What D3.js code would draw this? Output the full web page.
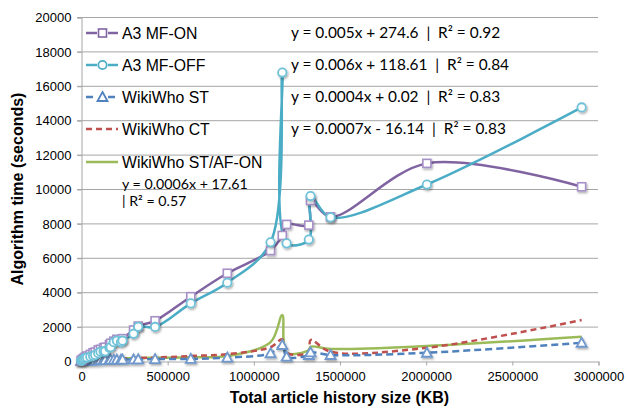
<!DOCTYPE html>
<html>
<head>
<meta charset="utf-8">
<script src="https://cdn.jsdelivr.net/npm/d3@7"></script>
<style>
  body { margin: 0; background: #fff; }
  svg { display: block; }
  .tick text { font-family: "Liberation Sans", Arial, sans-serif; font-size: 13px; fill: #000; }
</style>
</head>
<body>
<svg width="627" height="410"></svg>
<script>
// article history sizes (KB), shared by all series
var articleSize = [1000, 3000, 6000, 10000, 16000, 24000, 35000, 54000, 70000, 82000,
  100000, 113000, 131000, 140000, 165000, 172000, 190000, 208000, 232000, 241000,
  305000, 332000, 430000, 637000, 849000, 1100000, 1168000, 1193000, 1322000, 1332000,
  1448000, 2007000, 2905000];

// algorithm time (seconds)
var a3On = [10, 30, 60, 100, 150, 220, 290, 380, 480, 520,
  640, 680, 770, 800, 950, 1030, 1150, 1260, 1230, 1300,
  1800, 2030, 2340, 3740, 5100, 6420, 7300, 7940, 7900, 9330,
  8380, 11490, 10130];
var a3Off = [8, 25, 50, 80, 120, 170, 200, 250, 300, 350,
  450, 540, 560, 560, 760, 800, 1090, 1180, 1100, 1180,
  1580, 1990, 1980, 3350, 4550, 6900, 16770, 6840, 7060, 9590,
  8350, 10260, 14740];
var wwST = [2, 5, 8, 10, 15, 20, 25, 30, 35, 40,
  45, 50, 55, 55, 60, 65, 70, 75, 80, 80,
  90, 100, 110, 120, 200, 450, 930, 250, 350, 500,
  350, 480, 1060];
var wwCT = [3, 8, 12, 18, 25, 30, 40, 50, 55, 60,
  70, 80, 85, 90, 100, 105, 110, 120, 130, 135,
  160, 170, 200, 290, 400, 800, 1260, 480, 500, 1220,
  540, 770, 2380];
var wwAF = [3, 8, 12, 18, 25, 35, 45, 55, 65, 70,
  80, 90, 95, 100, 110, 115, 120, 130, 140, 145,
  170, 180, 190, 215, 290, 1100, 2670, 480, 640, 830,
  700, 870, 1410];

var seriesNames = ["A3 MF-ON", "A3 MF-OFF", "WikiWho ST", "WikiWho CT", "WikiWho ST/AF-ON"];
var equations = [
  "y = 0.005x + 274.6  |  R\u00b2 = 0.92",
  "y = 0.006x + 118.61  |  R\u00b2 = 0.84",
  "y = 0.0004x + 0.02  |  R\u00b2 = 0.83",
  "y = 0.0007x - 16.14  |  R\u00b2 = 0.83"
];
var afEquation = ["y = 0.0006x + 17.61", "| R\u00b2 = 0.57"];

var xTicks = [0, 500000, 1000000, 1500000, 2000000, 2500000, 3000000];
var yTicks = d3.range(0, 20001, 2000);

var seriesValues = [a3On, a3Off, wwST, wwCT, wwAF];
var lineColors = ["#8064A2", "#4BACC6", "#4F81BD", "#C0504D", "#9BBB59"];
var markerColors = ["#A690C8", "#6FC2D8", "#6F98CC", null, null];
var markerTypes = ["square", "circle", "triangle", null, null];
var dashes = [null, null, "7,4", "6,4", null];

var svg = d3.select("svg");
var plotL = 81, plotR = 598, plotT = 17, plotB = 361;

var x = d3.scaleLinear().domain([0, 3000000]).range([plotL, plotR]);
var y = d3.scaleLinear().domain([0, 20000]).range([plotB, plotT]);

// shadow like the office charts
var defs = svg.append("defs");
var f = defs.append("filter").attr("id", "shadow").attr("x", "-50%").attr("y", "-50%")
  .attr("width", "200%").attr("height", "200%");
f.append("feDropShadow").attr("dx", 1).attr("dy", 1.5).attr("stdDeviation", 1)
  .attr("flood-color", "#000").attr("flood-opacity", 0.35);

// gridlines
svg.append("g")
  .selectAll("line")
  .data(yTicks.filter(function (d) { return d > 0; }))
  .enter().append("line")
  .attr("x1", plotL - 4).attr("x2", plotR)
  .attr("y1", function (d) { return y(d) + 0.5; })
  .attr("y2", function (d) { return y(d) + 0.5; })
  .attr("stroke", "#A6A6A6").attr("stroke-width", 1);

// y axis
var yAxis = svg.append("g")
  .attr("transform", "translate(" + (plotL + 0.5) + ",0.5)")
  .call(d3.axisLeft(y).tickValues(yTicks).tickSize(4).tickPadding(6).tickFormat(d3.format("d")));
yAxis.select(".domain").attr("stroke", "#A6A6A6");
yAxis.selectAll(".tick line").attr("stroke", "#A6A6A6");

// x axis
var xAxis = svg.append("g")
  .attr("transform", "translate(0.5," + (plotB + 0.5) + ")")
  .call(d3.axisBottom(x).tickValues(xTicks).tickSize(4).tickPadding(6).tickFormat(d3.format("d")));
xAxis.select(".domain").attr("stroke", "#A6A6A6");
xAxis.selectAll(".tick line").attr("stroke", "#A6A6A6");

// axis titles
svg.append("text")
  .attr("x", (plotL + plotR) / 2).attr("y", 403)
  .attr("text-anchor", "middle")
  .style("font-family", "Liberation Sans, Arial, sans-serif")
  .style("font-weight", "bold").style("font-size", "16px")
  .text("Total article history size (KB)");

svg.append("text")
  .attr("transform", "translate(23," + (plotT + plotB) / 2 + ") rotate(-90)")
  .attr("text-anchor", "middle")
  .style("font-family", "Liberation Sans, Arial, sans-serif")
  .style("font-weight", "bold").style("font-size", "16px")
  .text("Algorithm time (seconds)");

// lines
var line = d3.line()
  .x(function (d) { return x(d[0]); })
  .y(function (d) { return y(d[1]); })
  .curve(d3.curveCatmullRom.alpha(0.5));

var drawOrder = [4, 3, 2, 0, 1];
var plot = svg.append("g");

drawOrder.forEach(function (s) {
  var pts = articleSize.map(function (v, i) { return [v, seriesValues[s][i]]; });
  plot.append("path")
    .datum(pts)
    .attr("d", line)
    .attr("fill", "none")
    .attr("stroke", lineColors[s])
    .attr("stroke-width", 2.5)
    .attr("stroke-dasharray", dashes[s]);
});

function drawMarker(g, type, color, cx, cy) {
  if (type === "square") {
    g.append("rect").attr("x", cx - 4).attr("y", cy - 4).attr("width", 8).attr("height", 8)
      .attr("fill", "#fff").attr("stroke", color).attr("stroke-width", 1.6);
  } else if (type === "circle") {
    g.append("circle").attr("cx", cx).attr("cy", cy).attr("r", 4.2)
      .attr("fill", "#fff").attr("stroke", color).attr("stroke-width", 1.8);
  } else if (type === "triangle") {
    g.append("path")
      .attr("d", "M" + cx + "," + (cy - 5) + "L" + (cx + 5) + "," + (cy + 4) + "L" + (cx - 5) + "," + (cy + 4) + "Z")
      .attr("fill", "#fff").attr("stroke", color).attr("stroke-width", 1.8);
  }
}

[2, 0, 1].forEach(function (s) {
  var g = plot.append("g").attr("filter", "url(#shadow)");
  articleSize.forEach(function (v, i) {
    drawMarker(g, markerTypes[s], markerColors[s], x(v), y(seriesValues[s][i]));
  });
});

// legend
var legendY = [33, 65, 97, 129, 162];
var legend = svg.append("g");
seriesNames.forEach(function (name, s) {
  var ly = legendY[s];
  legend.append("line")
    .attr("x1", 86).attr("x2", 118).attr("y1", ly).attr("y2", ly)
    .attr("stroke", lineColors[s]).attr("stroke-width", 2.5)
    .attr("stroke-dasharray", dashes[s]);
  if (markerTypes[s]) {
    legend.append("rect").attr("x", 97).attr("y", ly - 5).attr("width", 11).attr("height", 10).attr("fill", "#fff");
    drawMarker(legend, markerTypes[s], lineColors[s], 102.5, ly);
  }
  legend.append("text")
    .attr("x", 122).attr("y", ly + 5.5)
    .style("font-family", "Liberation Sans, Arial, sans-serif")
    .style("font-size", "15.8px")
    .text(name);
});

// trendline equations
var eqFont = "Lato, 'Open Sans', sans-serif";
equations.forEach(function (t, i) {
  svg.append("text")
    .attr("x", 291).attr("y", legendY[i] + 4.5)
    .style("font-family", eqFont).style("font-size", "15.4px")
    .style("white-space", "pre")
    .text(t);
});
afEquation.forEach(function (t, i) {
  svg.append("text")
    .attr("x", 122).attr("y", 189 + i * 17)
    .style("font-family", eqFont).style("font-size", "14.2px")
    .text(t);
});
</script>
</body>
</html>
